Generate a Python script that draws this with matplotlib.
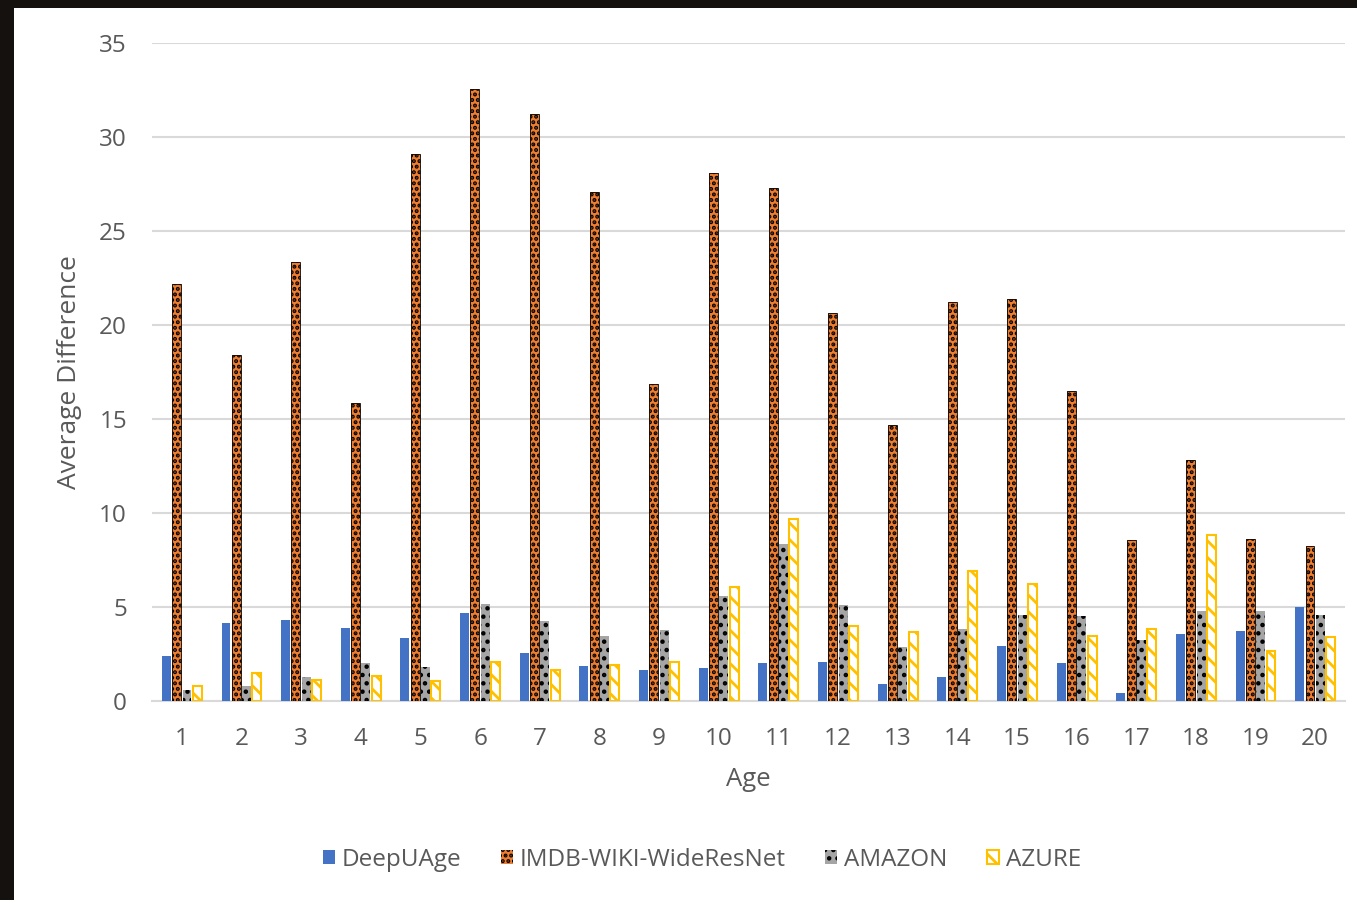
import matplotlib.pyplot as plt
import matplotlib.patches as mpatches
import numpy as np

ages = [str(i) for i in range(1, 21)]
deepuage = [2.4, 4.15, 4.3, 3.9, 3.35, 4.7, 2.55, 1.85, 1.65, 1.75,
            2.0, 2.1, 0.9, 1.3, 2.95, 2.0, 0.4, 3.55, 3.7, 5.0]
imdb = [22.2, 18.4, 23.35, 15.85, 29.1, 32.55, 31.2, 27.1, 16.85, 28.1,
        27.3, 20.65, 14.7, 21.2, 21.4, 16.5, 8.55, 12.8, 8.6, 8.25]
amazon = [0.6, 0.8, 1.3, 2.0, 1.8, 5.15, 4.25, 3.45, 3.8, 5.6,
          8.35, 5.1, 2.85, 3.85, 4.55, 4.5, 3.25, 4.8, 4.8, 4.6]
azure = [0.8, 1.5, 1.1, 1.35, 1.05, 2.05, 1.65, 1.9, 2.1, 6.05,
         9.7, 4.0, 3.65, 6.9, 6.2, 3.45, 3.85, 8.85, 2.65, 3.4]

plt.rcParams['font.family'] = ['Open Sans', 'DejaVu Sans']
plt.rcParams['hatch.linewidth'] = 2.0
txt = '#595959'

fig = plt.figure(figsize=(13.57, 9), dpi=100, facecolor='#15110e')
# white panel inside the dark frame
fig.patches.append(mpatches.Rectangle((14/1357, 0), 1, 1 - 8/900, transform=fig.transFigure,
                                      facecolor='white', edgecolor='none', zorder=-10))
ax = fig.add_axes([152/1357, 1 - 701/900, 1193/1357, 658/900])
ax.set_facecolor('none')

x = np.arange(len(ages))
w = 0.15
step = 0.173

ax.bar(x - 1.5*step, deepuage, w, color='#4472C4', label='DeepUAge', zorder=3)

ax.bar(x - 0.5*step, imdb, w, color='#ED7D31', linewidth=0, zorder=3)
ax.bar(x - 0.5*step, imdb, w, fill=False, edgecolor='black', linewidth=0.6,
       hatch='...', zorder=4)

ax.bar(x + 0.5*step, amazon, w, color='#A5A5A5', linewidth=0, zorder=3)
ax.bar(x + 0.5*step, amazon, w, fill=False, edgecolor='black', linewidth=0,
       hatch='..', zorder=4)

ax.bar(x + 1.5*step, azure, w, facecolor='white', edgecolor='#FFC000', linewidth=1.5,
       hatch='\\\\', zorder=3)

ax.set_xlim(-0.5, len(ages) - 0.5)
ax.set_ylim(0, 35)
ax.set_yticks(range(0, 36, 5))
ax.set_xticks(x)
ax.set_xticklabels(ages)
ax.yaxis.grid(True, color='#D9D9D9', linewidth=1.5, zorder=0)
ax.set_axisbelow(True)
for s in ['top', 'right', 'left']:
    ax.spines[s].set_visible(False)
ax.spines['bottom'].set_color('#D9D9D9')
ax.spines['bottom'].set_linewidth(1.5)
ax.tick_params(axis='both', length=0, labelsize=17.5, labelcolor=txt)
ax.tick_params(axis='y', pad=18)
ax.tick_params(axis='x', pad=19)
ax.set_xlabel('Age', fontsize=18.5, color=txt, labelpad=11)
ax.set_ylabel('Average Difference', fontsize=19, color=txt, labelpad=12)

h1 = mpatches.Patch(facecolor='#4472C4', label='DeepUAge')
h2 = mpatches.Patch(facecolor='#ED7D31', edgecolor='black', linewidth=0, hatch='...',
                    label='IMDB-WIKI-WideResNet')
h3 = mpatches.Patch(facecolor='#A5A5A5', edgecolor='black', linewidth=0, hatch='..',
                    label='AMAZON')
h4 = mpatches.Patch(facecolor='white', edgecolor='#FFC000', linewidth=1.5, hatch='\\\\',
                    label='AZURE')
leg = fig.legend(handles=[h1, h2, h3, h4], loc='center', bbox_to_anchor=(702/1357, 1 - 860/900),
                 ncol=4, frameon=False, fontsize=17.5, handlelength=0.5, handleheight=0.5,
                 handletextpad=0.3, columnspacing=1.6)
for t in leg.get_texts():
    t.set_color(txt)

fig.savefig('out.png', dpi=100, facecolor=fig.get_facecolor())
